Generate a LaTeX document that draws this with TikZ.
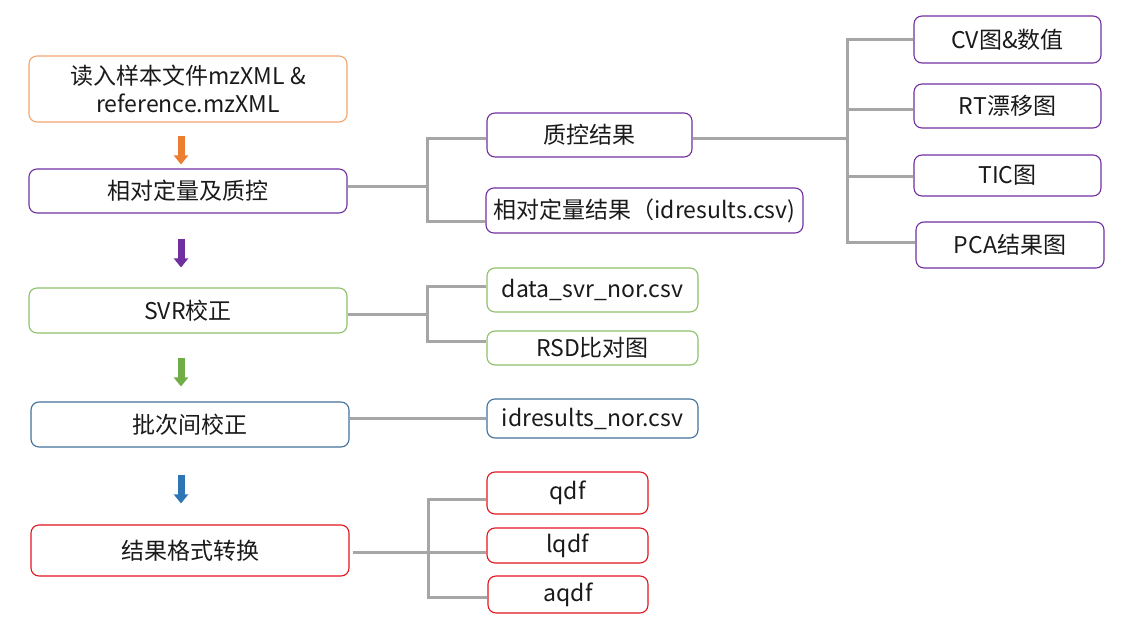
\documentclass[tikz,border=0pt]{standalone}
\usepackage{fontspec}
\setmainfont{Noto Sans CJK SC}
\usetikzlibrary{arrows.meta,calc}
\definecolor{cOr}{HTML}{ED7D31}
\definecolor{cOrL}{HTML}{F2A56E}
\definecolor{cPu}{HTML}{7030A0}
\definecolor{cGr}{HTML}{70AD47}
\definecolor{cGrL}{HTML}{8CC168}
\definecolor{cBl}{HTML}{2E75B6}
\definecolor{cBlL}{HTML}{41719C}
\definecolor{cRd}{HTML}{E3141C}
\definecolor{gry}{HTML}{A6A6A6}
\definecolor{txt}{HTML}{1A1A1A}
\begin{document}
\begin{tikzpicture}[x=1pt,y=-1pt,
  box/.style={draw, rounded corners=8pt, line width=1.1pt, inner sep=0pt, fill=white,
    font=\fontsize{23}{28}\selectfont, text=txt, align=center},
  conn/.style={draw=gry, line width=3pt},
  blk/.style={line width=7pt, -{Triangle[width=14pt,length=9pt]}}]
\useasboundingbox (0,0) rectangle (1133,631);
% left column
\node[box, draw=cOrL, minimum width=318pt, minimum height=66pt] (b1) at (188,89) {读入样本文件mzXML \&\\reference.mzXML};
\node[box, draw=cPu, minimum width=318pt, minimum height=44pt] (b2) at (188,191) {相对定量及质控};
\node[box, draw=cGrL, minimum width=318pt, minimum height=45pt] (b3) at (188,310.5) {SVR校正};
\node[box, draw=cBlL, minimum width=318pt, minimum height=45pt] (b4) at (190,424.5) {批次间校正};
\node[box, draw=cRd, minimum width=318pt, minimum height=51pt] (b5) at (190,550.5) {结果格式转换};
% middle column
\node[box, draw=cPu, minimum width=205pt, minimum height=44pt] (qc) at (589.5,135) {质控结果};
\node[box, draw=cPu, minimum width=317pt, minimum height=45pt] (rq) at (644.5,210.5) {相对定量结果（idresults.csv)};
\node[box, draw=cGrL, minimum width=211pt, minimum height=44pt] (ds) at (592.5,290) {data\_svr\_nor.csv};
\node[box, draw=cGrL, minimum width=211pt, minimum height=34pt] (rsd) at (592.5,348) {RSD比对图};
\node[box, draw=cBlL, minimum width=211pt, minimum height=39pt] (inor) at (592.5,418.5) {idresults\_nor.csv};
\node[box, draw=cRd, minimum width=161pt, minimum height=42pt] (qdf) at (567.5,493) {qdf};
\node[box, draw=cRd, minimum width=161pt, minimum height=35pt] (lqdf) at (567.5,545.5) {lqdf};
\node[box, draw=cRd, minimum width=160pt, minimum height=37pt] (aqdf) at (568,594.5) {aqdf};
% right column
\node[box, draw=cPu, minimum width=187pt, minimum height=47pt] (cv) at (1007.5,39.5) {CV图\&数值};
\node[box, draw=cPu, minimum width=187pt, minimum height=44pt] (rt) at (1007.5,106) {RT漂移图};
\node[box, draw=cPu, minimum width=187pt, minimum height=41pt] (tic) at (1007.5,175.5) {TIC图};
\node[box, draw=cPu, minimum width=188pt, minimum height=46pt] (pca) at (1010,245) {PCA结果图};
% block arrows
\draw[blk, cOr] ($(b1.south)+(-7,13)$) -- ($(b2.north)+(-7,-4)$);
\draw[blk, cPu] ($(b2.south)+(-7,25)$) -- ($(b3.north)+(-7,-20)$);
\draw[blk, cGr] ($(b3.south)+(-7,24)$) -- ($(b4.north)+(-9,-15)$);
\draw[blk, cBl] ($(b4.south)+(-9,27)$) -- ($(b5.north)+(-9,-21)$);
% connectors
\coordinate (s1) at (427,187);
\coordinate (s2) at (847,139);
\coordinate (s3) at (427,314);
\coordinate (s5) at (428,552);
\draw[conn] ($(b2.east)+(0,-4)$) -- (s1);
\draw[conn] ($(qc.west)+(0,4)$) -| (s1) |- ($(rq.west)+(0,11.5)$);
\draw[conn] ($(qc.east)+(0,4)$) -- (s2);
\draw[conn] (cv.west) -| (s2) |- ($(pca.west)+(0,-2)$);
\draw[conn] ($(s2 |- rt.west)+(0,4)$) -- ($(rt.west)+(0,4)$);
\draw[conn] ($(s2 |- tic.west)+(0,1.5)$) -- ($(tic.west)+(0,1.5)$);
\draw[conn] ($(b3.east)+(0,3.5)$) -- (s3);
\draw[conn] ($(ds.west)+(0,-3)$) -| (s3) |- ($(rsd.west)+(0,-7)$);
\draw[conn] (b4.east |- inor.west) -- (inor.west);
\draw[conn] ($(b5.east)+(3,1.5)$) -- (s5);
\draw[conn] ($(qdf.west)+(0,6)$) -| (s5) |- ($(aqdf.west)+(0,2.5)$);
\draw[conn] (s5) -- ($(lqdf.west)+(0,6.5)$);
\end{tikzpicture}
\end{document}
